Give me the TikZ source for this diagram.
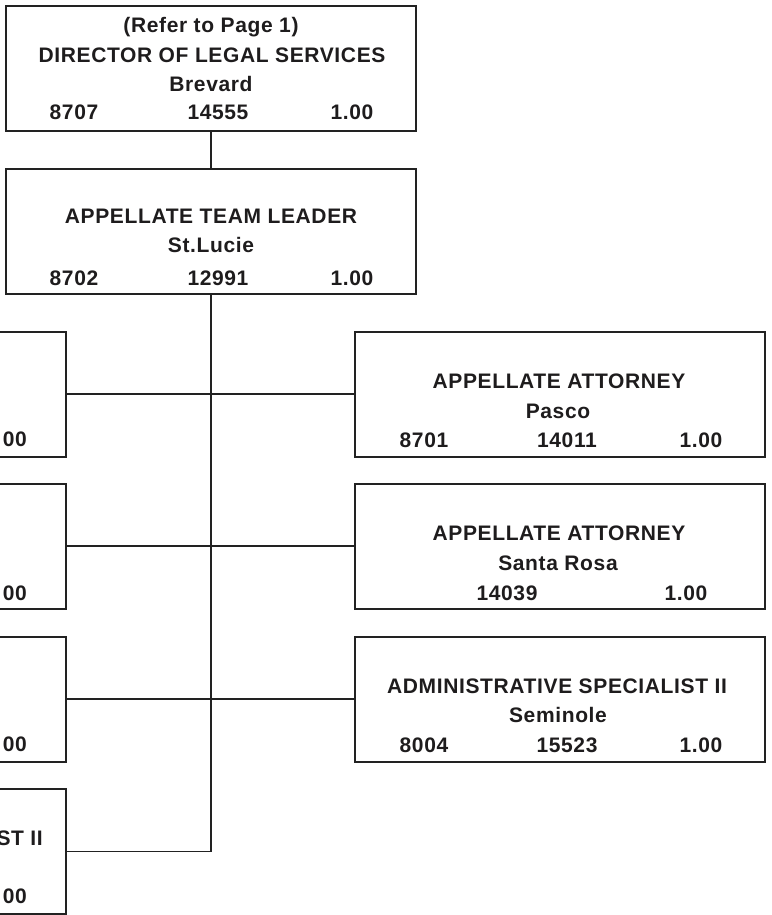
\documentclass[tikz,border=0pt]{standalone}
\usepackage{fontspec}
\setmainfont{Liberation Sans}
\definecolor{linecol}{HTML}{222222}
\definecolor{txtcol}{HTML}{1E1C1D}
\begin{document}
\begin{tikzpicture}[x=1pt,y=-1pt,
  box/.style={draw=linecol, line width=2pt, rectangle, inner sep=0pt,
              minimum width=410pt, minimum height=125pt},
  lbl/.style={anchor=base, inner sep=0pt, text=txtcol,
              font=\fontsize{21}{25}\selectfont\bfseries\addfontfeature{LetterSpace=3}},
  lble/.style={lbl, anchor=base east},
  link/.style={draw=linecol, line width=1.6pt}]
\useasboundingbox (0,0) rectangle (771,915);
\clip (0,0) rectangle (771,915);

% boxes
\node[box] (dir)  at (211,68.5) {};
\node[box] (lead) at (211,231) {};
\node[box] (l1) at (-139,394) {};
\node[box] (l2) at (-139,546) {};
\node[box] (l3) at (-139,699) {};
\node[box] (l4) at (-139,851.5) {};
\node[box] (r1) at (560,394) {};
\node[box] (r2) at (560,546) {};
\node[box] (r3) at (560,699) {};

% connectors
\draw[link] (dir.south) -- (lead.north);
\draw[link] (lead.south) |- (l4.east);
\draw[link] (l1.east) -- (r1.west);
\draw[link] (l2.east) -- (r2.west);
\draw[link] (l3.east) -- (r3.west);

% director
\node[lbl] (dir-a) at (211,33) {(Refer to Page 1)};
\node[lbl] (dir-b) at (212,63) {DIRECTOR OF LEGAL SERVICES};
\node[lbl] (dir-c) at (211,92) {Brevard};
\node[lbl] (dir-d) at (74,120) {8707};
\node[lbl] (dir-e) at (218,120) {14555};
\node[lbl] (dir-f) at (352,120) {1.00};

% team leader
\node[lbl] (lead-a) at (211,223) {APPELLATE TEAM LEADER};
\node[lbl] (lead-b) at (211,252) {St.Lucie};
\node[lbl] (lead-c) at (74,285) {8702};
\node[lbl] (lead-d) at (218,285) {12991};
\node[lbl] (lead-e) at (352,285) {1.00};

% left column (partly outside the frame)
\node[lble] (l1-a) at (27,446) {00};
\node[lble] (l2-a) at (27,600) {00};
\node[lble] (l3-a) at (27,751) {00};
\node[lble] (l4-a) at (43,845) {ST II};
\node[lble] (l4-b) at (27,903) {00};

% right column
\node[lbl] (r1-a) at (559,388) {APPELLATE ATTORNEY};
\node[lbl] (r1-b) at (558,418) {Pasco};
\node[lbl] (r1-c) at (424,447) {8701};
\node[lbl] (r1-d) at (567,447) {14011};
\node[lbl] (r1-e) at (701,447) {1.00};

\node[lbl] (r2-a) at (559,540) {APPELLATE ATTORNEY};
\node[lbl] (r2-b) at (558,570) {Santa Rosa};
\node[lbl] (r2-c) at (507,600) {14039};
\node[lbl] (r2-d) at (686,600) {1.00};

\node[lbl] (r3-a) at (557,693) {ADMINISTRATIVE SPECIALIST II};
\node[lbl] (r3-b) at (558,722) {Seminole};
\node[lbl] (r3-c) at (424,752) {8004};
\node[lbl] (r3-d) at (567,752) {15523};
\node[lbl] (r3-e) at (701,752) {1.00};
\end{tikzpicture}
\end{document}
